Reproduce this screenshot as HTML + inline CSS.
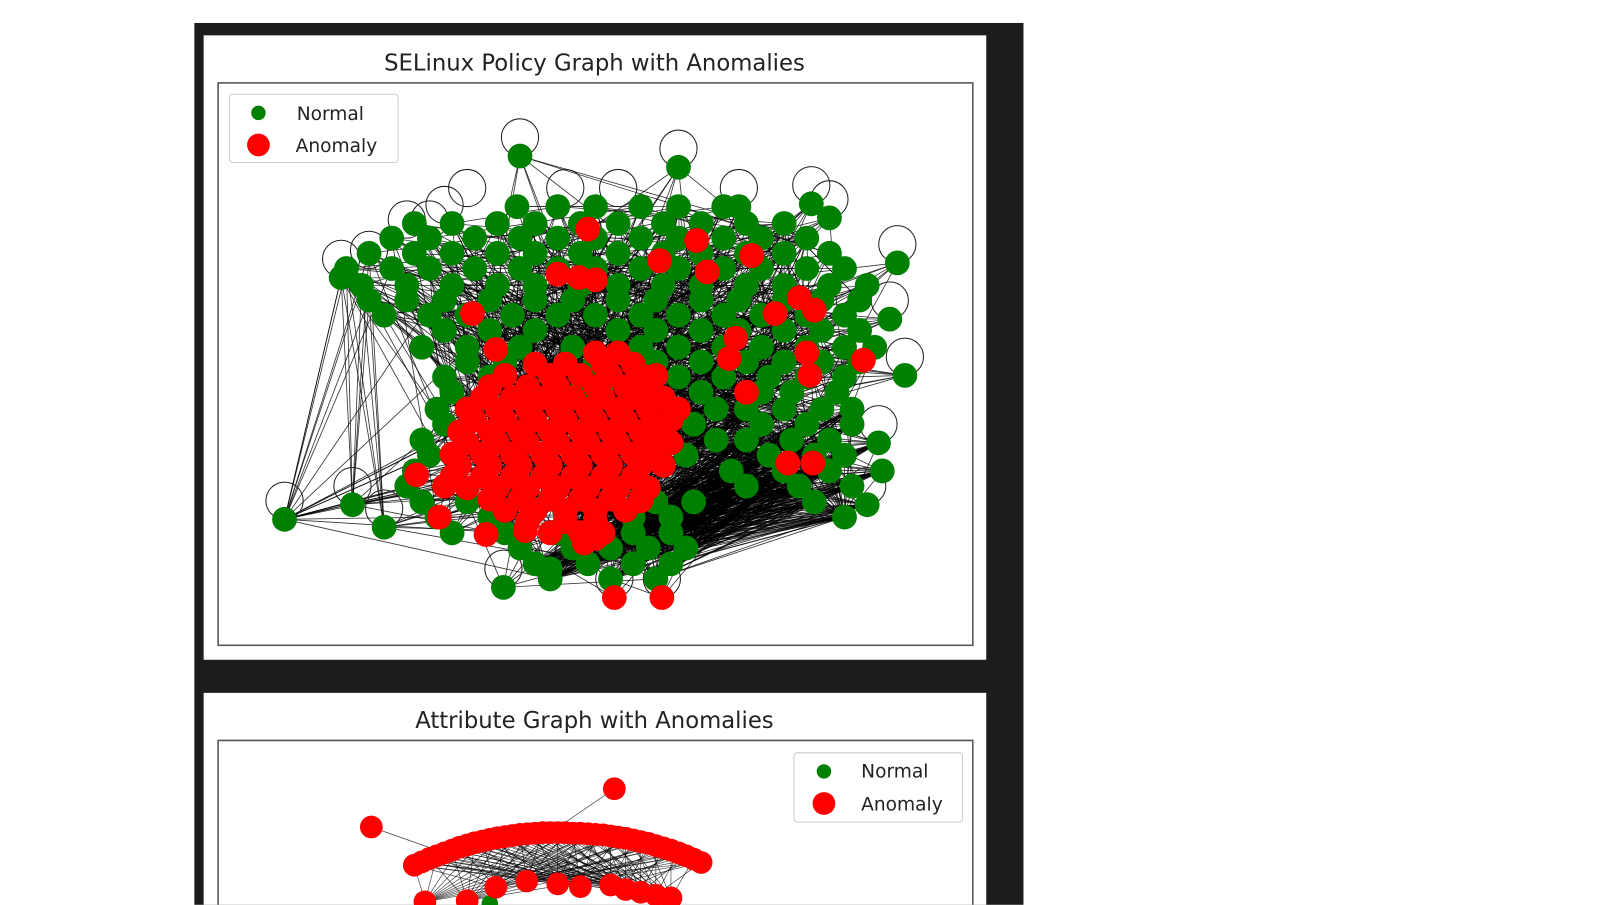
<!DOCTYPE html>
<html><head><meta charset="utf-8">
<style>
html,body{margin:0;padding:0;background:#fff;width:1621px;height:905px;overflow:hidden}
svg{display:block;font-family:"DejaVu Sans","Liberation Sans",sans-serif;overflow:hidden}
</style></head>
<body>
<svg id="fig" width="1621" height="905" viewBox="0 0 1568 875">
  <rect x="188" y="22" width="802" height="853" fill="#1c1c1c"/>
  <rect x="197" y="34" width="757" height="604" fill="#fff"/>
  <rect x="197" y="670" width="757" height="205" fill="#fff"/>
  <text x="575" y="68" font-size="22" text-anchor="middle" fill="#222">SELinux Policy Graph with Anomalies</text>
  <text x="575" y="704" font-size="22" text-anchor="middle" fill="#222">Attribute Graph with Anomalies</text>
  <g id="top-plot"></g>
  <g id="bot-plot"></g>
  <rect x="211" y="80" width="730" height="544" fill="none" stroke="#555" stroke-width="1.5"/>
  <path d="M211 875 V716 H941 V875" fill="none" stroke="#555" stroke-width="1.5"/>
  <g>
    <rect x="222" y="91" width="163" height="66" rx="3" fill="#fff" fill-opacity="0.9" stroke="#ccc"/>
    <circle cx="250" cy="109" r="7" fill="#008000"/>
    <text x="287" y="116" font-size="18" fill="#222">Normal</text>
    <circle cx="250" cy="140" r="11" fill="#ff0000"/>
    <text x="286" y="147" font-size="18" fill="#222">Anomaly</text>
  </g>
  <g>
    <rect x="768" y="728" width="163" height="67" rx="3" fill="#fff" fill-opacity="0.9" stroke="#ccc"/>
    <circle cx="797" cy="746" r="7" fill="#008000"/>
    <text x="833" y="752" font-size="18" fill="#222">Normal</text>
    <circle cx="797" cy="777" r="11" fill="#ff0000"/>
    <text x="833" y="784" font-size="18" fill="#222">Anomaly</text>
  </g>
</svg>
<script>
// ---- data (graph layout coordinates, 0-100 units) ----
const greenRows = [
 [78,[39.6,45,50,56,61,67]],
 [75,[26,31,37,42,48,53,59,64,70,75]],
 [72.4,[23,28,34,40,45,50,56,61,67,72,78]],
 [69.7,[20,26,31,37,42,48,53,59,64,70,75,81]],
 [67,[17,23,28,34,40,45,50,56,61,67,72,78,83]],
 [64,[19,25,31,37,42,48,53,59,64,70,75,81,86]],
 [61.4,[20,25,30,36,42,47,53,58,64,69,75,80,85]],
 [58.7,[22,28,33,39,45,50,56,61,67,72,78,83]],
 [56,[30,36,42,53,58,64,69,75,80,85]],
 [53,[27,33,40,47,56,61,67,72,78,83,87]],
 [50.4,[33,38,50,58,64,70,75,80,85]],
 [47.7,[30,36,52,61,67,73,78,83]],
 [45,[31,48,56,64,72,76,82]],
 [42,[29,66,70,75,80,84]],
 [39.3,[30,63,72,78,84]],
 [36.5,[27,66,70,76,81]],
 [33.8,[28,62,73,79,83]],
 [31,[26,68,75,81]],
 [28.3,[25,30,70,77,84]],
 [25.5,[27,33,58,63,79]],
 [22.8,[29,36,55,60,83]],
 [20,[31,38,45,55,60]],
 [17.3,[40,47,52,57,62]],
 [14.5,[42,49,55,60]],
 [11.8,[44,52,58]]
];
const greenOutliers = [[40,87],[61,85],[78.6,78.5],[81,76],[90,68],[89,58],[91,48],[87.5,36],[88,31],[86,25],[8.8,22.4],[17.8,25],[22,21],[37.8,10.3],[44,13.6],[69,78],[16.3,65.4]];
const redRows = [
 [52,[50,53]],
 [50,[42,46,51,55]],
 [48,[38,44,48,52,56,58]],
 [46,[36,41,45,50,54,57]],
 [44,[35,39,43,47,51,55,59]],
 [42,[33,37,41,45,49,53,57,61]],
 [40,[34,38,42,46,50,54,58,60]],
 [38,[32,36,40,44,48,52,56,59]],
 [36,[33,37,41,45,49,53,57,60]],
 [34,[31,35,39,43,47,51,55,58]],
 [32,[32,36,40,44,48,52,56,59]],
 [30,[31,35,39,43,47,51,55]],
 [28,[33,37,41,45,49,53,57]],
 [26,[36,40,44,48,52,56]],
 [24,[38,42,46,50,54]],
 [22,[41,46,50]],
 [20,[44,48,51]]
];
const redOutliers = [[49,74],[63.4,72],[70.7,69.3],[45,66],[47.8,65.4],[50,65],[58.5,68.4],[64.8,66.4],[33.7,59],[36.8,52.6],[73.8,59],[77,61.8],[79,59.6],[68.6,54.6],[67.7,51],[78,52],[78.4,48],[85.5,50.7],[70,45],[75.5,32.4],[78.8,32.4],[26.3,30.3],[30,28.3],[29.3,22.8],[35.5,19.7],[40.7,20.4],[48.5,18.2],[50,19],[56,25.7],[52.5,8.5],[58.8,8.5]];
const loopNodes = [[40,87],[61,85],[78.6,78.5],[81,76],[90,68],[89,58],[91,48],[87.5,36],[8.8,22.4],[17.8,25],[22,21],[37.8,10.3],[16.3,65.4],[20,67],[25,72.4],[28,72.4],[69,78],[53,78],[52.5,8.5],[58.8,8.5],[86,25],[30,75],[33,78],[46,78]];
const arcX = [26,27,28,29,30,31,32,33,34,35,36,37,38,39,40,41,42,43,44,45,46,47,48,49,50,51,52,53,54,55,56,57,58,59,60,61,62,63,64];
const arcY = [77.8,78.4,79,79.5,80,80.5,81,81.4,81.8,82.1,82.4,82.7,82.9,83.1,83.3,83.4,83.5,83.6,83.6,83.6,83.6,83.5,83.5,83.4,83.3,83.2,83,82.8,82.6,82.3,82,81.7,81.3,80.9,80.5,80,79.5,78.9,78.3];
const lowRed = [[36.8,73.9],[40.9,75],[45,74.5],[48,74],[52,74.3],[54,73.5],[56,73],[58,72.5],[60,72],[27.4,71.3],[33,71.5]];
const botOutliers = [[20.3,84.6],[52.5,91.4]];
const botGreen = [[36,71]];

// ---- axes ----
const xS = v => 211 + v*7.3;
const yTop = v => 624 - v*5.44;
const yBot = v => 1260 - v*5.44;
const NS='http://www.w3.org/2000/svg';
function mk(tag, attrs, parent){const e=document.createElementNS(NS,tag);for(const k in attrs)e.setAttribute(k,attrs[k]);parent.appendChild(e);return e;}

const topG = document.getElementById('top-plot');
const green=[]; greenRows.forEach(r=>r[1].forEach(x=>green.push([x,r[0]]))); greenOutliers.forEach(p=>green.push(p));
const red=[]; redRows.forEach(r=>r[1].forEach(x=>red.push([x,r[0]]))); redOutliers.forEach(p=>red.push(p));

const edges = mk('g',{stroke:'#000','stroke-width':0.8,'stroke-opacity':0.8,fill:'none'},topG);


green.forEach((g,i)=>{
  [i%red.length,(i*7+3)%red.length,(i*13+5)%red.length,(i*17+9)%red.length].forEach(j=>{
    const r=red[j];
    const l=mk('line',{x1:xS(g[0]),y1:yTop(g[1]),x2:xS(r[0]),y2:yTop(r[1])},edges);
    
    
  });
  [(i*11+4)%green.length,(i*5+2)%green.length].forEach(k=>{
    const h=green[k];
    const l2=mk('line',{x1:xS(g[0]),y1:yTop(g[1]),x2:xS(h[0]),y2:yTop(h[1])},edges);
    
    
  });
});
const fanSrc = green.filter(p=>p[1]<24 && p[0]>40);
const fanDst = green.filter(p=>p[0]>68 && p[1]<45);
fanSrc.forEach(s=>fanDst.forEach(d=>{
  const l=mk('line',{x1:xS(s[0]),y1:yTop(s[1]),x2:xS(d[0]),y2:yTop(d[1])},edges);
  
  
}));
const leftSrc = green.filter(p=>p[0]<22 && p[1]>60);
const leftDst = green.filter(p=>p[0]<24 && p[1]<30);
leftSrc.forEach(s=>leftDst.forEach(d=>{
  const l=mk('line',{x1:xS(s[0]),y1:yTop(s[1]),x2:xS(d[0]),y2:yTop(d[1])},edges);
  
  
}));
loopNodes.forEach(p=>{
  const c=mk('circle',{cx:xS(p[0]),cy:yTop(p[1])-18,r:18,fill:'none',stroke:'#222','stroke-width':1},topG);
  
  
});
green.forEach(p=>{
  const c=mk('circle',{cx:xS(p[0]),cy:yTop(p[1]),r:12,fill:'#008000'},topG);
  
  
});
red.forEach(p=>{
  const c=mk('circle',{cx:xS(p[0]),cy:yTop(p[1]),r:12,fill:'#ff0000'},topG);
  
  
});

// ---- bottom graph ----
const botG = document.getElementById('bot-plot');
const be = mk('g',{stroke:'#000','stroke-width':0.7,'stroke-opacity':0.7},botG);


arcX.forEach((x,i)=>{
  lowRed.forEach((q,j)=>{ if((i+j)%3===0){
    const l=mk('line',{x1:xS(x),y1:yBot(arcY[i]),x2:xS(q[0]),y2:yBot(q[1])},be);
    
    
  }});
});
[[botOutliers[0],[30,80]],[botOutliers[1],[44,83.6]]].forEach(pr=>{
  const l=mk('line',{x1:xS(pr[0][0]),y1:yBot(pr[0][1]),x2:xS(pr[1][0]),y2:yBot(pr[1][1])},be);
  
  
});
botGreen.forEach(p=>{
  const c=mk('circle',{cx:xS(p[0]),cy:yBot(p[1]),r:8,fill:'#008000'},botG);
  
  
});
arcX.forEach((x,i)=>{
  const c=mk('circle',{cx:xS(x),cy:yBot(arcY[i]),r:11,fill:'#ff0000'},botG);
  
  
});
lowRed.concat(botOutliers).forEach(p=>{
  const c=mk('circle',{cx:xS(p[0]),cy:yBot(p[1]),r:11,fill:'#ff0000'},botG);
  
  
});
</script>
</body></html>
